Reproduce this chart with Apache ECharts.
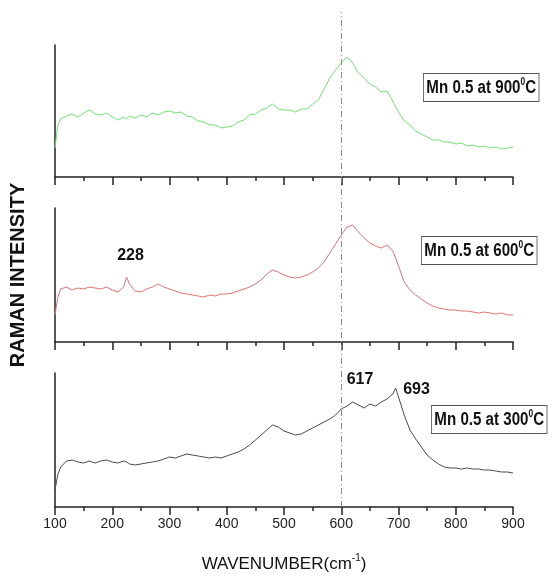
<!DOCTYPE html>
<html>
<head>
<meta charset="utf-8">
<script src="https://cdn.jsdelivr.net/npm/echarts@6/dist/echarts.min.js"></script>
<style>
  html, body { margin: 0; padding: 0; background: #fff; }
  #chart { width: 553px; height: 576px; }
</style>
</head>
<body>
<div id="chart"></div>
<script>
// wavenumber grid (cm-1), shared by the three spectra
const wavenumber = [
  100, 105, 110, 120, 130, 140, 150, 160, 170, 180, 190,
  200, 210, 220, 225, 230, 240, 250, 260, 270, 280, 290,
  300, 310, 320, 330, 340, 350, 360, 370, 380, 390,
  400, 410, 420, 430, 440, 450, 460, 470, 480, 490,
  500, 510, 520, 530, 540, 550, 560, 570, 580, 590,
  600, 610, 620, 630, 640, 650, 660, 670, 680, 690, 695,
  700, 710, 720, 730, 740, 750, 760, 770, 780, 790,
  800, 810, 820, 830, 840, 850, 860, 870, 880, 890, 900
];

// Mn 0.5 at 900 C
const green900 = [
  29, 52, 58, 61, 63, 60, 64, 67, 63, 62, 64,
  60, 57, 60, 58, 61, 59, 62, 60, 64, 62, 65,
  66, 64, 65, 61, 60, 56, 55, 52, 52, 49,
  50, 51, 55, 57, 62, 63, 67, 69, 73, 68,
  67, 67, 65, 68, 68, 73, 77, 88, 99, 107,
  114, 120, 114, 104, 99, 93, 90, 85, 86, 76, 70,
  65, 56, 52, 46, 43, 40, 37, 37, 35, 35,
  33, 34, 31, 32, 30, 31, 29, 30, 28, 29, 30
];

// Mn 0.5 at 600 C
const red600 = [
  27, 45, 53, 55, 52, 54, 53, 55, 54, 53, 55,
  52, 50, 55, 65, 58, 51, 50, 53, 55, 58, 55,
  53, 51, 49, 48, 47, 46, 45, 47, 46, 48,
  48, 49, 51, 53, 55, 58, 62, 68, 72, 70,
  67, 65, 64, 65, 67, 70, 74, 80, 89, 98,
  107, 115, 117, 110, 104, 99, 96, 94, 97, 91, 84,
  76, 60, 52, 47, 43, 39, 36, 34, 33, 32,
  32, 31, 31, 30, 29, 30, 29, 28, 29, 27, 27
];

// Mn 0.5 at 300 C
const black300 = [
  17, 33, 40, 46, 47, 45, 44, 46, 44, 46, 47,
  45, 44, 46, 45, 43, 42, 43, 44, 45, 46, 48,
  50, 49, 51, 53, 52, 51, 50, 49, 50, 49,
  51, 53, 55, 58, 62, 67, 72, 77, 82, 80,
  76, 74, 72, 73, 76, 79, 82, 85, 88, 92,
  98, 101, 105, 102, 99, 103, 101, 105, 108, 113, 119,
  110, 92, 77, 68, 60, 52, 47, 43, 40, 39,
  39, 38, 39, 38, 38, 37, 37, 36, 35, 35, 34
];

const xTicks = [100, 200, 300, 400, 500, 600, 700, 800, 900];
const refLine = 600;
// peak labels: [wavenumber, intensity, text]
const peaks600 = [[225, 65, '228']];
const peaks300 = [[617, 103, '617'], [693, 114, '693']];

const FONT = '"Liberation Sans", Arial, sans-serif';

const pair = (ys) => wavenumber.map((w, i) => [w, ys[i]]);

// panel layout (px)
const panels = [
  { top: 45, height: 132, color: '#74e074', data: green900, label: '900' },
  { top: 208, height: 134, color: '#e07272', data: red600, label: '600' },
  { top: 373, height: 134, color: '#4a4a4a', data: black300, label: '300' }
];

const chart = echarts.init(document.getElementById('chart'));

const grids = panels.map(p => ({ left: 55, right: 40, top: p.top, height: p.height }));
grids.push({ left: 55, right: 40, top: 12, bottom: 576 - 507 });

const xAxes = panels.map((p, i) => ({
  type: 'value', gridIndex: i, min: xTicks[0], max: xTicks[xTicks.length - 1], interval: 100,
  axisLine: { show: true, onZero: false, lineStyle: { color: '#222', width: 1.5 } },
  axisTick: { show: true, length: 8, lineStyle: { color: '#222', width: 1.5 } },
  minorTick: { show: true, splitNumber: 2, length: 4, lineStyle: { color: '#222', width: 1.5 } },
  splitLine: { show: false },
  axisLabel: { show: i === 2, fontFamily: FONT, fontSize: 14, color: '#222', margin: 10 },
  name: i === 2 ? '{a|WAVENUMBER(cm}{s|-1}{a|)}' : '',
  nameLocation: 'middle', nameGap: 46,
  nameTextStyle: {
    rich: {
      a: { fontFamily: FONT, fontSize: 17, color: '#111' },
      s: { fontFamily: FONT, fontSize: 10, color: '#111', padding: [0, 0, 12, 0] }
    }
  }
}));
xAxes.push({ type: 'value', gridIndex: 3, min: 100, max: 900, show: false });

const yAxes = panels.map((p, i) => ({
  type: 'value', gridIndex: i, min: 0, max: p.height,
  axisLine: { show: true, lineStyle: { color: '#222', width: 1.5 } },
  axisTick: { show: false }, axisLabel: { show: false }, splitLine: { show: false },
  name: i === 1 ? 'RAMAN INTENSITY' : '',
  nameLocation: 'middle', nameRotate: 90, nameGap: 27,
  nameTextStyle: { fontFamily: FONT, fontWeight: 'bold', fontSize: 20, color: '#111' }
}));
yAxes.push({ type: 'value', gridIndex: 3, min: 0, max: 1, show: false });

const peakMark = (list) => ({
  symbol: 'circle', symbolSize: 1, silent: true,
  itemStyle: { color: 'rgba(0,0,0,0)' },
  data: list.map(p => ({
    coord: [p[0], p[1]], name: p[2],
    label: {
      show: true, formatter: p[2], position: 'inside',
      offset: p[2] === '228' ? [4, -21] : p[2] === '617' ? [9, -24] : [22, -3],
      fontFamily: FONT, fontWeight: 'bold', fontSize: 16, color: '#111'
    }
  }))
});

const series = panels.map((p, i) => ({
  type: 'line', xAxisIndex: i, yAxisIndex: i,
  data: pair(p.data), showSymbol: false, symbol: 'none',
  lineStyle: { color: p.color, width: 1 },
  animation: false,
  markPoint: i === 1 ? peakMark(peaks600) : i === 2 ? peakMark(peaks300) : undefined
}));
series.push({
  type: 'line', xAxisIndex: 3, yAxisIndex: 3, data: [], animation: false,
  markLine: {
    symbol: 'none', silent: true, animation: false,
    label: { show: false },
    lineStyle: { color: '#8a8a8a', width: 1, type: [6, 3, 1, 3] },
    data: [{ xAxis: refLine }]
  }
});

// legend boxes "Mn 0.5 at ...°C"
const boxPos = [[423, 73], [421, 236], [431, 405]];
const graphic = panels.map((p, i) => ({
  type: 'text', left: boxPos[i][0], top: boxPos[i][1], z: 100,
  scaleX: 0.84,
  style: {
    text: '{n|Mn 0.5 at ' + p.label + '}{s|0}{n|C}',
    rich: {
      n: { fontFamily: FONT, fontSize: 18, fontWeight: 'bold', fill: '#111' },
      s: { fontFamily: FONT, fontSize: 10, fontWeight: 'bold', fill: '#111', padding: [0, 0, 12, 0] }
    },
    backgroundColor: '#fff', borderColor: '#555', borderWidth: 1, padding: [3, 3, 2, 3]
  }
}));

chart.setOption({
  backgroundColor: '#fff',
  animation: false,
  grid: grids,
  xAxis: xAxes,
  yAxis: yAxes,
  series: series,
  graphic: graphic
});
</script>
</body>
</html>
